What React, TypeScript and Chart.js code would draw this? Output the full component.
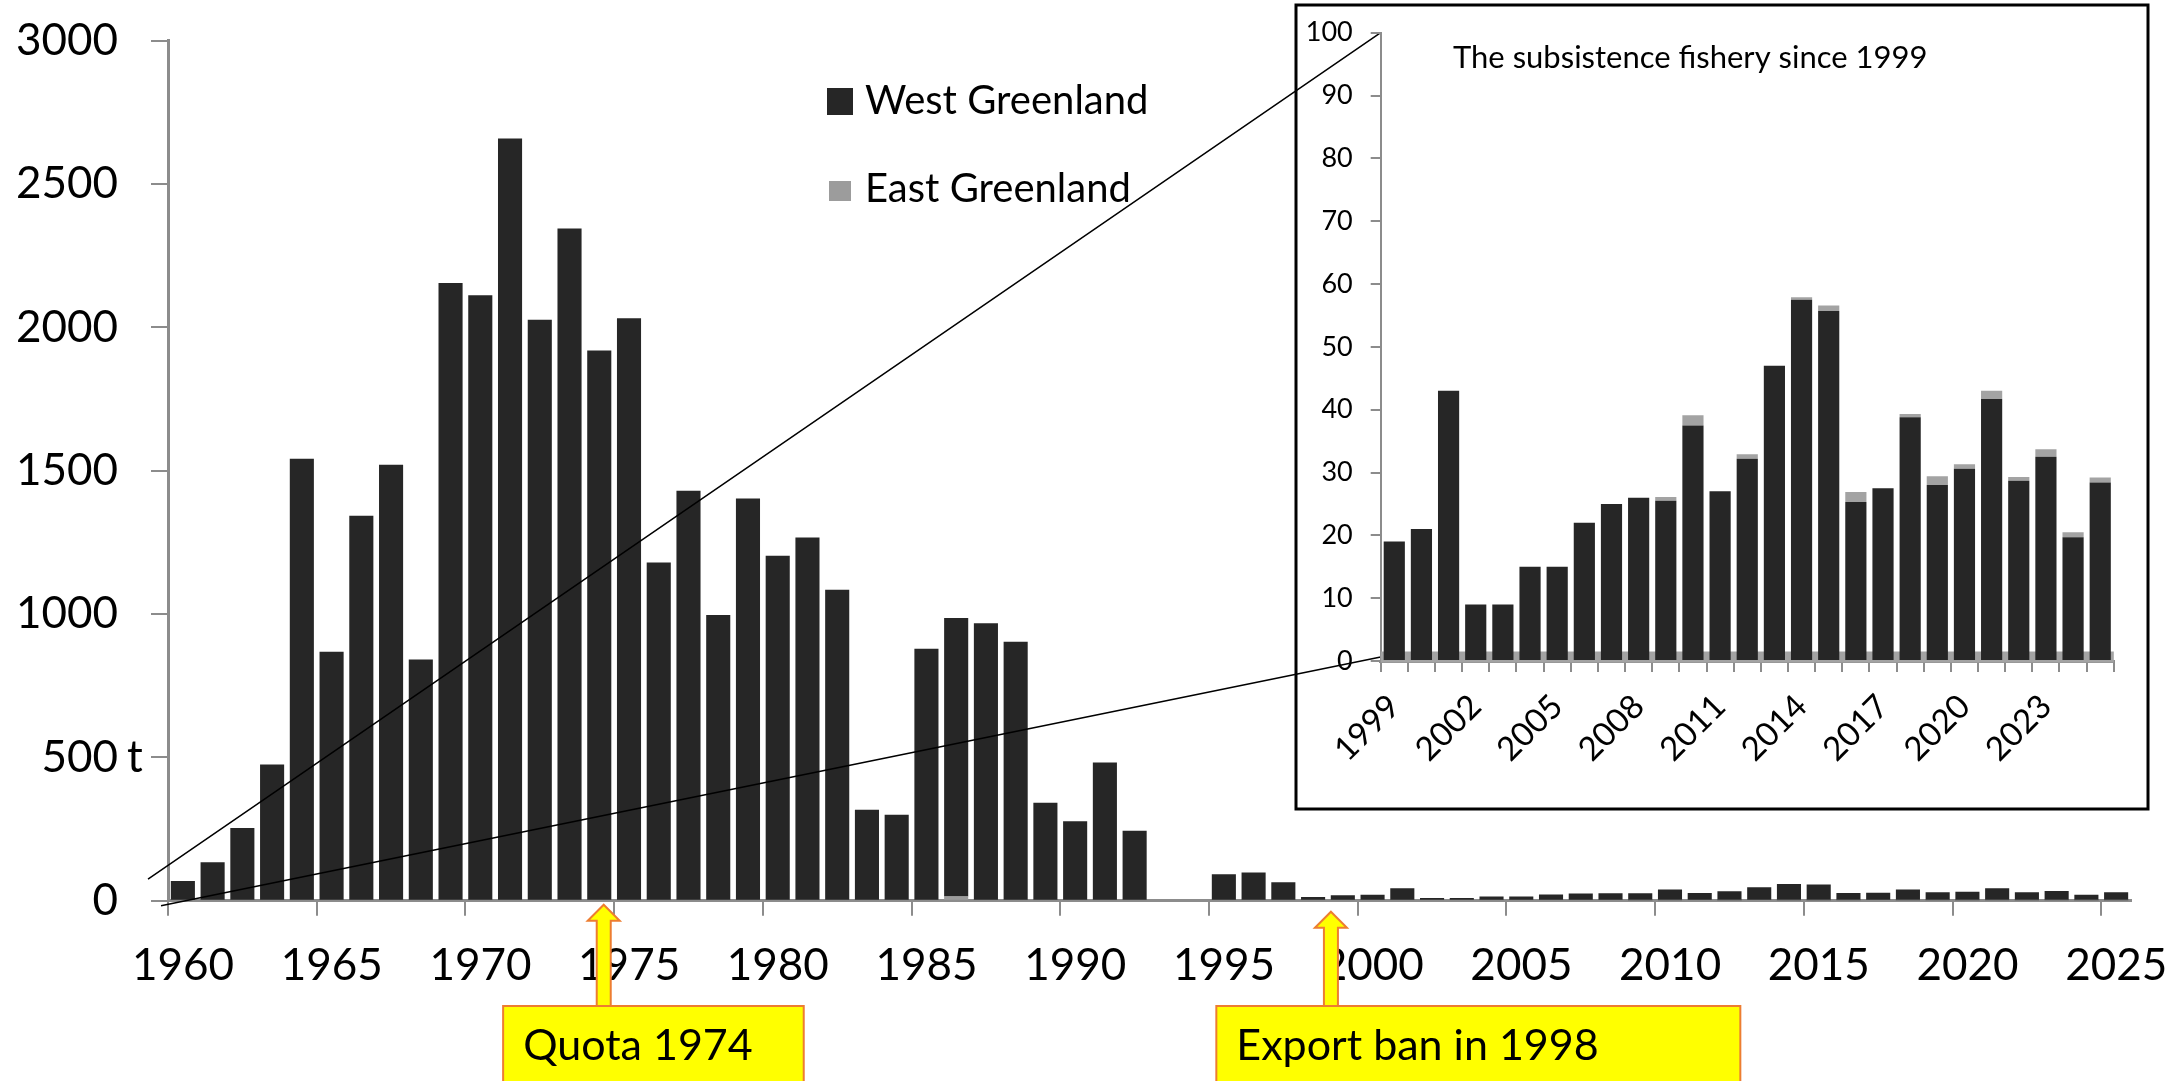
import React, { useEffect, useRef } from 'react';
import { Chart, registerables } from 'chart.js';

Chart.register(...registerables);

// ---------- DATA ----------
const mainYears = [
  1960, 1961, 1962, 1963, 1964, 1965, 1966, 1967, 1968, 1969,
  1970, 1971, 1972, 1973, 1974, 1975, 1976, 1977, 1978, 1979,
  1980, 1981, 1982, 1983, 1984, 1985, 1986, 1987, 1988, 1989,
  1990, 1991, 1992, 1993, 1994, 1995, 1996, 1997, 1998,
  1999, 2000, 2001, 2002, 2003, 2004, 2005, 2006, 2007, 2008, 2009,
  2010, 2011, 2012, 2013, 2014, 2015, 2016, 2017, 2018, 2019,
  2020, 2021, 2022, 2023, 2024, 2025,
];

// West Greenland catches 1960-1998 (tonnes)
const westEarly = [
  69, 134, 254, 475, 1542, 868, 1343, 1521, 841, 2155,
  2112, 2659, 2027, 2345, 1919, 2032, 1180, 1430, 997, 1403,
  1203, 1267, 1085, 317, 300, 879, 971, 968, 903, 342,
  277, 482, 244, 0, 0, 92, 98, 64, 13,
];
// East Greenland catches 1960-1998 (tonnes)
const eastEarly = [
  0, 0, 0, 0, 0, 0, 0, 0, 0, 0,
  0, 0, 0, 0, 0, 0, 0, 0, 0, 0,
  0, 0, 0, 0, 0, 0, 15, 0, 0, 0,
  0, 0, 0, 0, 0, 0, 0, 0, 0,
];

// Subsistence fishery since 1999 (tonnes)
const insetYears = [
  1999, 2000, 2001, 2002, 2003, 2004, 2005, 2006, 2007, 2008,
  2009, 2010, 2011, 2012, 2013, 2014, 2015, 2016, 2017, 2018,
  2019, 2020, 2021, 2022, 2023, 2024, 2025,
];
const insetWest = [
  19, 21, 43, 9, 9, 15, 15, 22, 25, 26,
  25.5, 37.5, 27, 32.2, 47, 57.5, 55.7, 25.3, 27.5, 38.8,
  28, 30.6, 41.7, 28.7, 32.5, 19.7, 28.4,
];
const insetEast = [
  0, 0, 0, 0, 0, 0, 0, 0, 0, 0,
  0.6, 1.6, 0, 0.7, 0, 0.4, 0.9, 1.6, 0, 0.5,
  1.4, 0.7, 1.3, 0.6, 1.2, 0.8, 0.8,
];

const mainWest = [...westEarly, ...insetWest];
const mainEast = [...eastEarly, ...insetEast];

const mainXTicks = { min: 1960, max: 2026, step: 5 };
const mainYTicks = { min: 0, max: 3000, step: 500 };
const insetYTicks = { min: 0, max: 100, step: 10 };

const legendLabels = ['West Greenland', 'East Greenland'];
const insetTitle = 'The subsistence fishery since 1999';
const annotations = [
  { text: 'Quota 1974', at: 1974.65 },
  { text: 'Export ban in 1998', at: 1999.1 },
];

// ---------- STYLE ----------
const FONT = 'Lato, "Open Sans", sans-serif';
const DARK = '#262626';
const GREY_MAIN = '#9c9c9c';
const GREY_INSET = '#a3a3a3';
const AXIS = '#8c8c8c';

const W = 2174;
const H = 1081;
const INSET_LEFT = 1290;
const INSET_TOP = 0;
const INSET_W = 870;
const INSET_H = 820;

export default function App() {
  const mainRef = useRef<HTMLCanvasElement>(null);
  const insetRef = useRef<HTMLCanvasElement>(null);

  useEffect(() => {
    document.body.style.margin = '0';

    const insetPlugin = {
      id: 'insetDeco',
      beforeDatasetsDraw(chart: any) {
        const { ctx, chartArea } = chart;
        ctx.save();
        ctx.fillStyle = GREY_INSET;
        ctx.fillRect(chartArea.left, chartArea.bottom - 9.5, chartArea.right - chartArea.left, 11);
        ctx.restore();
      },
      afterDraw(chart: any) {
        const { ctx } = chart;
        ctx.save();
        ctx.strokeStyle = '#000';
        ctx.lineWidth = 3;
        ctx.strokeRect(6, 5, 852, 804);
        ctx.fillStyle = '#000';
        ctx.font = `31px ${FONT}`;
        ctx.textBaseline = 'alphabetic';
        ctx.textAlign = 'left';
        ctx.fillText(insetTitle, 163, 68);
        ctx.restore();
      },
    };

    const inset = new Chart(insetRef.current as HTMLCanvasElement, {
      type: 'bar',
      data: {
        labels: insetYears.map(String),
        datasets: [
          { label: legendLabels[0], data: insetWest, backgroundColor: DARK, barPercentage: 0.78, categoryPercentage: 1 },
          { label: legendLabels[1], data: insetEast, backgroundColor: GREY_INSET, barPercentage: 0.78, categoryPercentage: 1 },
        ],
      },
      options: {
        responsive: false,
        animation: false,
        devicePixelRatio: 1,
        layout: { padding: { left: 0, top: 32.7, right: 46.2, bottom: 0 } },
        plugins: { legend: { display: false }, tooltip: { enabled: false } },
        scales: {
          x: {
            stacked: true,
            grid: { offset: true, drawOnChartArea: false, drawTicks: true, tickLength: 11, color: AXIS, lineWidth: 2 },
            border: { display: true, color: AXIS, width: 3 },
            ticks: {
              autoSkip: false,
              maxRotation: 45,
              minRotation: 45,
              padding: 15,
              color: '#000',
              font: { family: FONT, size: 33 },
              callback: function (this: any, v: any, i: number) {
                return i % 3 === 0 ? this.getLabelForValue(v) : '';
              },
            },
            afterFit: (s: any) => {
              s.height = INSET_H - 661;
              s.paddingLeft = 0;
              s.paddingRight = 0;
            },
          },
          y: {
            stacked: true,
            min: insetYTicks.min,
            max: insetYTicks.max,
            ticks: { stepSize: insetYTicks.step, padding: 18, color: '#000', font: { family: FONT, size: 27 } },
            grid: { drawOnChartArea: false, tickLength: 10, color: AXIS, lineWidth: 2 },
            border: { display: true, color: AXIS, width: 2 },
            afterFit: (s: any) => {
              s.width = 90.7;
              s.paddingTop = 0;
              s.paddingBottom = 0;
            },
          },
        },
      } as any,
      plugins: [insetPlugin],
    });

    const mainPlugin = {
      id: 'mainDeco',
      afterDraw(chart: any) {
        const { ctx, chartArea, scales } = chart;
        const xs = scales.x;
        const ys = scales.y;
        ctx.save();

        // zoom lines to inset
        const iy = inset.scales.y as any;
        const ix = inset.chartArea.left + INSET_LEFT;
        ctx.strokeStyle = '#000';
        ctx.lineWidth = 1.5;
        ctx.beginPath();
        ctx.moveTo(chartArea.left - 20, ys.getPixelForValue(75));
        ctx.lineTo(ix, iy.getPixelForValue(insetYTicks.max) + INSET_TOP);
        ctx.moveTo(chartArea.left - 7, ys.getPixelForValue(0) + 5);
        ctx.lineTo(ix, iy.getPixelForValue(insetYTicks.min) + INSET_TOP - 4);
        ctx.stroke();

        // unit label
        ctx.fillStyle = '#000';
        ctx.font = `44px ${FONT}`;
        ctx.textAlign = 'left';
        ctx.textBaseline = 'middle';
        ctx.fillText('t', 127, ys.getPixelForValue(500));

        // legend
        ctx.fillStyle = DARK;
        ctx.fillRect(827, 88, 26, 27);
        ctx.fillStyle = GREY_MAIN;
        ctx.fillRect(829, 181, 22, 20);
        ctx.fillStyle = '#000';
        ctx.font = `40px ${FONT}`;
        ctx.textBaseline = 'alphabetic';
        ctx.fillText(legendLabels[0], 865, 114);
        ctx.fillText(legendLabels[1], 865, 202);

        // annotations
        const boxes = [
          { tip: chartArea.bottom + 4, left: -100.6, right: 200 },
          { tip: chartArea.bottom + 11, left: -114.6, right: 409.4 },
        ];
        annotations.forEach((a, k) => {
          const cx = xs.getPixelForValue(a.at);
          const b = boxes[k];
          const boxTop = 1006;
          // arrow
          ctx.beginPath();
          ctx.moveTo(cx, b.tip);
          ctx.lineTo(cx + 16, b.tip + 16);
          ctx.lineTo(cx + 7, b.tip + 16);
          ctx.lineTo(cx + 7, boxTop);
          ctx.lineTo(cx - 7, boxTop);
          ctx.lineTo(cx - 7, b.tip + 16);
          ctx.lineTo(cx - 16, b.tip + 16);
          ctx.closePath();
          ctx.fillStyle = '#FFFF00';
          ctx.fill();
          ctx.strokeStyle = '#ED7D31';
          ctx.lineWidth = 2;
          ctx.stroke();
          // box
          const bl = cx + b.left;
          const bw = b.right - b.left;
          ctx.fillStyle = '#FFFF00';
          ctx.fillRect(bl, boxTop, bw, 100);
          ctx.strokeRect(bl, boxTop, bw, 100);
          ctx.fillStyle = '#000';
          ctx.font = `43px ${FONT}`;
          ctx.textAlign = 'left';
          ctx.textBaseline = 'alphabetic';
          ctx.fillText(a.text, bl + 20, 1060);
        });
        ctx.restore();
      },
    };

    const main = new Chart(mainRef.current as HTMLCanvasElement, {
      type: 'bar',
      data: {
        datasets: [
          {
            label: legendLabels[1],
            data: mainYears.map((y, i) => ({ x: y + 0.5, y: mainEast[i] })),
            backgroundColor: GREY_MAIN,
            barPercentage: 0.81,
            categoryPercentage: 1,
          },
          {
            label: legendLabels[0],
            data: mainYears.map((y, i) => ({ x: y + 0.5, y: mainWest[i] })),
            backgroundColor: DARK,
            barPercentage: 0.81,
            categoryPercentage: 1,
          },
        ],
      },
      options: {
        responsive: false,
        animation: false,
        devicePixelRatio: 1,
        layout: { padding: { left: 0, top: 40.7, right: 43, bottom: 0 } },
        plugins: { legend: { display: false }, tooltip: { enabled: false } },
        scales: {
          x: {
            type: 'linear',
            stacked: true,
            offset: false,
            min: mainXTicks.min,
            max: mainXTicks.max,
            ticks: {
              stepSize: mainXTicks.step,
              includeBounds: false,
              autoSkip: false,
              maxRotation: 0,
              padding: 24,
              labelOffset: 15,
              color: '#000',
              font: { family: FONT, size: 44 },
              callback: (v: any) => String(v),
            },
            grid: { offset: false, drawOnChartArea: false, tickLength: 15, color: AXIS, lineWidth: 2 },
            border: { display: true, color: AXIS, width: 3 },
            afterFit: (s: any) => {
              s.height = H - 900.7;
              s.paddingLeft = 0;
              s.paddingRight = 0;
            },
          },
          y: {
            stacked: true,
            min: mainYTicks.min,
            max: mainYTicks.max,
            ticks: {
              stepSize: mainYTicks.step,
              padding: 33,
              color: '#000',
              font: { family: FONT, size: 44 },
              callback: (v: any) => String(v),
            },
            grid: { drawOnChartArea: false, tickLength: 17, color: AXIS, lineWidth: 2 },
            border: { display: true, color: AXIS, width: 3 },
            afterFit: (s: any) => {
              s.width = 168;
              s.paddingTop = 0;
              s.paddingBottom = 0;
            },
          },
        },
      } as any,
      plugins: [mainPlugin],
    });

    return () => {
      main.destroy();
      inset.destroy();
    };
  }, []);

  return (
    <div style={{ position: 'relative', width: W, height: H, overflow: 'hidden', background: '#fff' }}>
      <canvas
        ref={mainRef}
        width={W}
        height={H}
        style={{ position: 'absolute', left: 0, top: 0, width: W, height: H }}
      />
      <canvas
        ref={insetRef}
        width={INSET_W}
        height={INSET_H}
        style={{ position: 'absolute', left: INSET_LEFT, top: INSET_TOP, width: INSET_W, height: INSET_H }}
      />
    </div>
  );
}
